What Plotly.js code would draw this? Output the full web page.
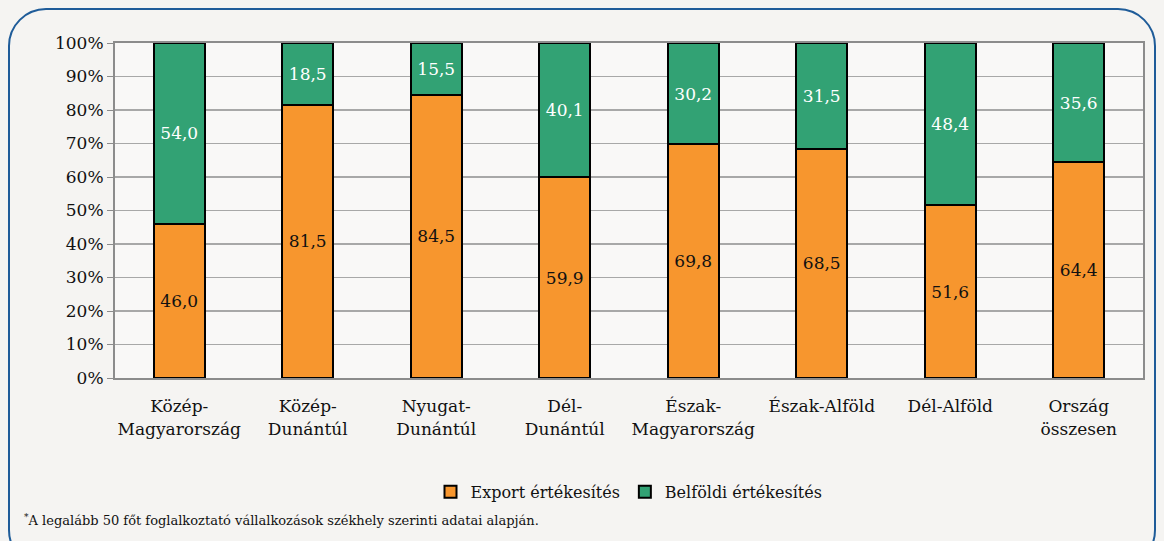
<!DOCTYPE html>
<html><head><meta charset="utf-8">
<script src="https://cdn.plot.ly/plotly-3.0.1.min.js"></script>
<style>
html,body{margin:0;padding:0;background:#F5F4F2;}
#wrap{position:relative;width:1164px;height:541px;overflow:hidden;}
#frame{position:absolute;left:8px;top:8px;width:1148px;height:560px;border:2px solid #1F5C99;border-radius:38px;box-sizing:border-box;}
#chart{position:absolute;left:0;top:0;width:1164px;height:541px;}
</style></head><body>
<div id="wrap"><div id="frame"></div><div id="chart"></div></div>
<script>
const categories = ["Közép-<br>Magyarország","Közép-<br>Dunántúl","Nyugat-<br>Dunántúl","Dél-<br>Dunántúl","Észak-<br>Magyarország","Észak-Alföld","Dél-Alföld","Ország<br>összesen"];
const exportValues = [46.0,81.5,84.5,59.9,69.8,68.5,51.6,64.4];
const domesticValues = [54.0,18.5,15.5,40.1,30.2,31.5,48.4,35.6];
const seriesNames = ["Export értékesítés","Belföldi értékesítés"];
const footnote = "<sup>*</sup>A legalább 50 főt foglalkoztató vállalkozások székhely szerinti adatai alapján.";
const fmt = v => v.toFixed(1).replace('.', ',');
const font = "DejaVu Serif";
const traces = [
 {type:'bar', name:seriesNames[0], x:categories, y:exportValues,
  text:exportValues.map(fmt), textposition:'inside', insidetextanchor:'middle',
  textfont:{family:font,size:17,color:'#111'},
  marker:{color:'#F7962E', line:{color:'#000',width:2}}},
 {type:'bar', name:seriesNames[1], x:categories, y:domesticValues,
  text:domesticValues.map(fmt), textposition:'inside', insidetextanchor:'middle',
  textfont:{family:font,size:17,color:'#fff'},
  marker:{color:'#32A274', line:{color:'#000',width:2}}}
];
const layout = {
 width:1164, height:541, barmode:'stack', bargap:0.6,
 paper_bgcolor:'rgba(0,0,0,0)', plot_bgcolor:'#F9F8F7',
 margin:{l:115,r:21,t:43,b:163},
 font:{family:font,size:16,color:'#111'},
 xaxis:{type:'category', showline:true, linecolor:'#8C8C8C', linewidth:2, mirror:true,
   ticks:'', tickangle:0, ticklabelstandoff:12, tickfont:{family:font,size:17,color:'#111'}, fixedrange:true},
 yaxis:{range:[0,100], dtick:10, ticksuffix:'%', showline:true, linecolor:'#8C8C8C', linewidth:2, mirror:true,
   ticks:'outside', ticklen:6, tickcolor:'#8C8C8C', gridcolor:'#A8A8A8', gridwidth:1.5,
   tickfont:{family:font,size:17,color:'#111'}, zeroline:false},
 showlegend:true,
 legend:{orientation:'h', x:0.5, xanchor:'center', y:-0.34, yanchor:'middle',
   font:{family:font,size:16,color:'#111'}, traceorder:'normal', itemwidth:30, bgcolor:'rgba(0,0,0,0)'},
 annotations:[{xref:'paper', yref:'paper', x:-0.09, y:-0.425, xanchor:'left', yanchor:'middle',
   text:footnote, showarrow:false, font:{family:font,size:13,color:'#111'}}]
};
Plotly.newPlot('chart', traces, layout, {displayModeBar:false, staticPlot:true});
</script></body></html>
